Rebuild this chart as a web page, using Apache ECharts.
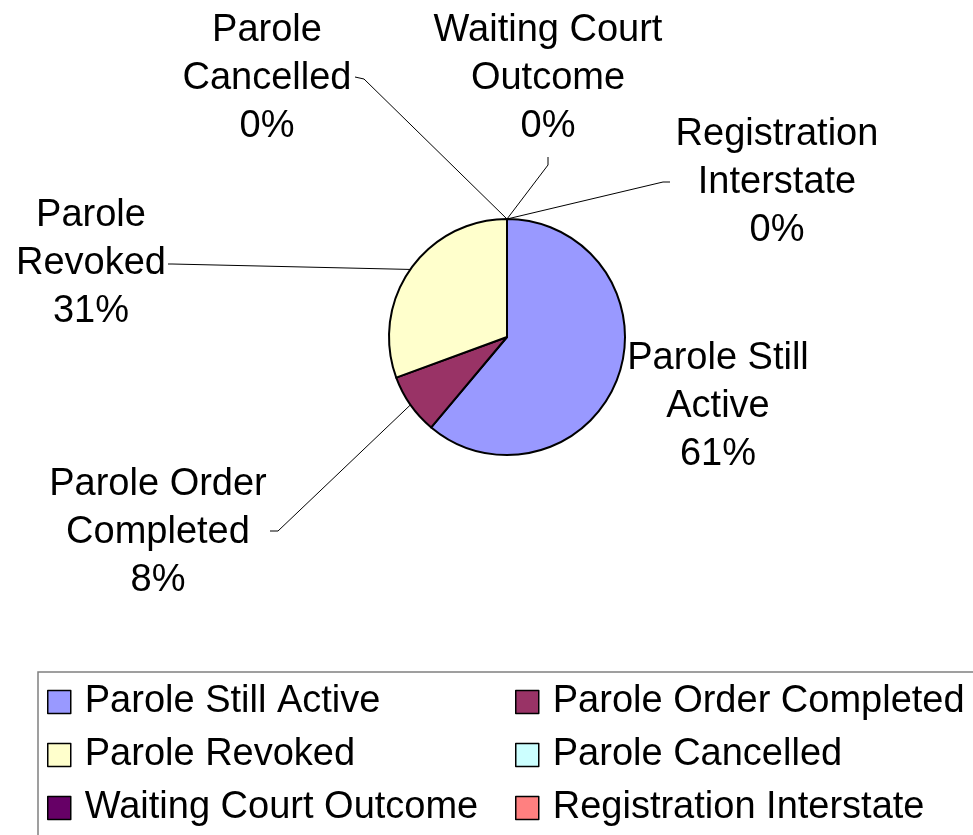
<!DOCTYPE html>
<html>
<head>
<meta charset="utf-8">
<script src="https://cdn.jsdelivr.net/npm/echarts@6/dist/echarts.min.js"></script>
<style>
  html, body { margin: 0; padding: 0; background: #fff; }
  #chart { width: 973px; height: 835px; }
</style>
</head>
<body>
<div id="chart"></div>
<script>
const categories = ['Parole Still Active', 'Parole Order Completed', 'Parole Revoked',
  'Parole Cancelled', 'Waiting Court Outcome', 'Registration Interstate']
const shares = [61.1, 8.3, 30.6, 0, 0, 0]
const colors = ['#9999ff', '#993366', '#ffffcc', '#ccffff', '#660066', '#ff8080']
const labelTexts = ['Parole Still\nActive', 'Parole Order\nCompleted', 'Parole\nRevoked',
  'Parole\nCancelled', 'Waiting Court\nOutcome', 'Registration\nInterstate']

// where each label block sits, and the bend/end of its leader line
const labelPos = [[718, 407], [158, 533], [91, 264], [267, 79], [548, 79], [777, 183]]
const leaderTail = [
  null,
  [[278, 531], [270, 531]],
  [[172, 264], [168, 264]],
  [[364, 79], [355, 77]],
  [[548, 165], [548, 157]],
  [[663, 182], [670, 182]]
]

const FONT = '"Liberation Sans", Arial, sans-serif'

const chart = echarts.init(document.getElementById('chart'))

const legendStyle = {
  orient: 'vertical',
  top: 682,
  padding: 0,
  itemWidth: 23,
  itemHeight: 23,
  itemGap: 13,
  icon: 'rect',
  itemStyle: { borderColor: '#000', borderWidth: 1.5 },
  textStyle: { fontFamily: FONT, fontSize: 38, color: '#000', lineHeight: 40, padding: [0, 0, 0, 9] }
}

chart.setOption({
  animation: false,
  color: colors,
  graphic: [{
    type: 'rect',
    shape: { x: 38, y: 672, width: 1000, height: 200 },
    style: { fill: 'none', stroke: '#808080', lineWidth: 1.5 }
  }],
  legend: [
    Object.assign({ left: 47, data: [categories[0], categories[2], categories[4]] }, legendStyle),
    Object.assign({ left: 515, data: [categories[1], categories[3], categories[5]] }, legendStyle)
  ],
  series: [{
    type: 'pie',
    center: [507, 337],
    radius: 118,
    startAngle: 90,
    clockwise: true,
    avoidLabelOverlap: false,
    itemStyle: { borderColor: '#000', borderWidth: 2 },
    label: {
      show: true,
      position: 'outside',
      fontFamily: FONT,
      fontSize: 38,
      lineHeight: 48,
      color: '#000',
      formatter: p => labelTexts[p.dataIndex] + '\n' + p.percent.toFixed(0) + '%'
    },
    labelLine: { show: true, lineStyle: { color: '#000', width: 1 } },
    labelLayout: p => {
      const i = p.dataIndex
      const out = { x: labelPos[i][0], y: labelPos[i][1], align: 'center', verticalAlign: 'middle' }
      const start = p.labelLinePoints ? p.labelLinePoints[0] : null
      if (leaderTail[i] && start) {
        out.labelLinePoints = [start, leaderTail[i][0], leaderTail[i][1]]
      } else if (start) {
        out.labelLinePoints = [start, start, start]
      }
      return out
    },
    emphasis: { disabled: true },
    data: categories.map((name, i) => ({ name, value: shares[i] }))
  }]
})
</script>
</body>
</html>
